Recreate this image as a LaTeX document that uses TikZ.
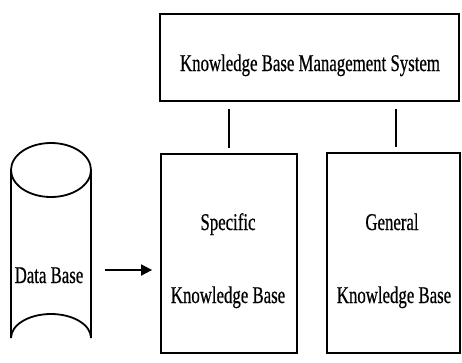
\documentclass[tikz,border=0pt]{standalone}
\usepackage{fontspec}
\setmainfont{Liberation Serif}[FakeStretch=0.70,FakeBold=0.6]
\usetikzlibrary{arrows.meta,calc}
\begin{document}
\begin{tikzpicture}[x=1pt,y=-1pt,line width=1.8pt,
  box/.style={draw,rectangle,inner sep=0pt},
  lbl/.style={font=\fontsize{24}{26}\selectfont,inner sep=0pt,anchor=base}]
\useasboundingbox (0,0) rectangle (462,362);
% boxes
\node[box,minimum width=299pt,minimum height=87pt] (kbms) at (309.5,57.5) {};
\node[lbl] (kbmst) at (310,71) {Knowledge Base Management System};
\node[box,minimum width=136pt,minimum height=199pt] (spec) at (229,253.5) {};
\node[box,minimum width=133pt,minimum height=200pt] (gen) at (393.5,253) {};
\node[lbl] (spec1) at (228,230) {Specific};
\node[lbl] (spec2) at (228,303) {Knowledge Base};
\node[lbl] (gen1) at (392,230) {General};
\node[lbl] (gen2) at (394,303) {Knowledge Base};
% connectors
\draw[shorten <=7pt,shorten >=5pt] (spec.north |- kbms.south) -- (spec.north);
\draw[shorten <=7pt,shorten >=5pt] ($(gen.north |- kbms.south)+(2.5,0)$) -- ($(gen.north)+(2.5,0)$);
% cylinder
\draw (11,170) -- (11,338) arc[start angle=180,end angle=360,x radius=40,y radius=24]
      -- (91,170) arc[start angle=0,end angle=180,x radius=40,y radius=27]
      arc[start angle=180,end angle=360,x radius=40,y radius=27];
\node[lbl] (db) at (49,283) {Data Base};
% arrow
\coordinate (a) at (105,270);
\draw[-{Triangle[length=11pt,width=11pt]},shorten >=8pt] (a) -- (a -| spec.west);
\end{tikzpicture}
\end{document}
